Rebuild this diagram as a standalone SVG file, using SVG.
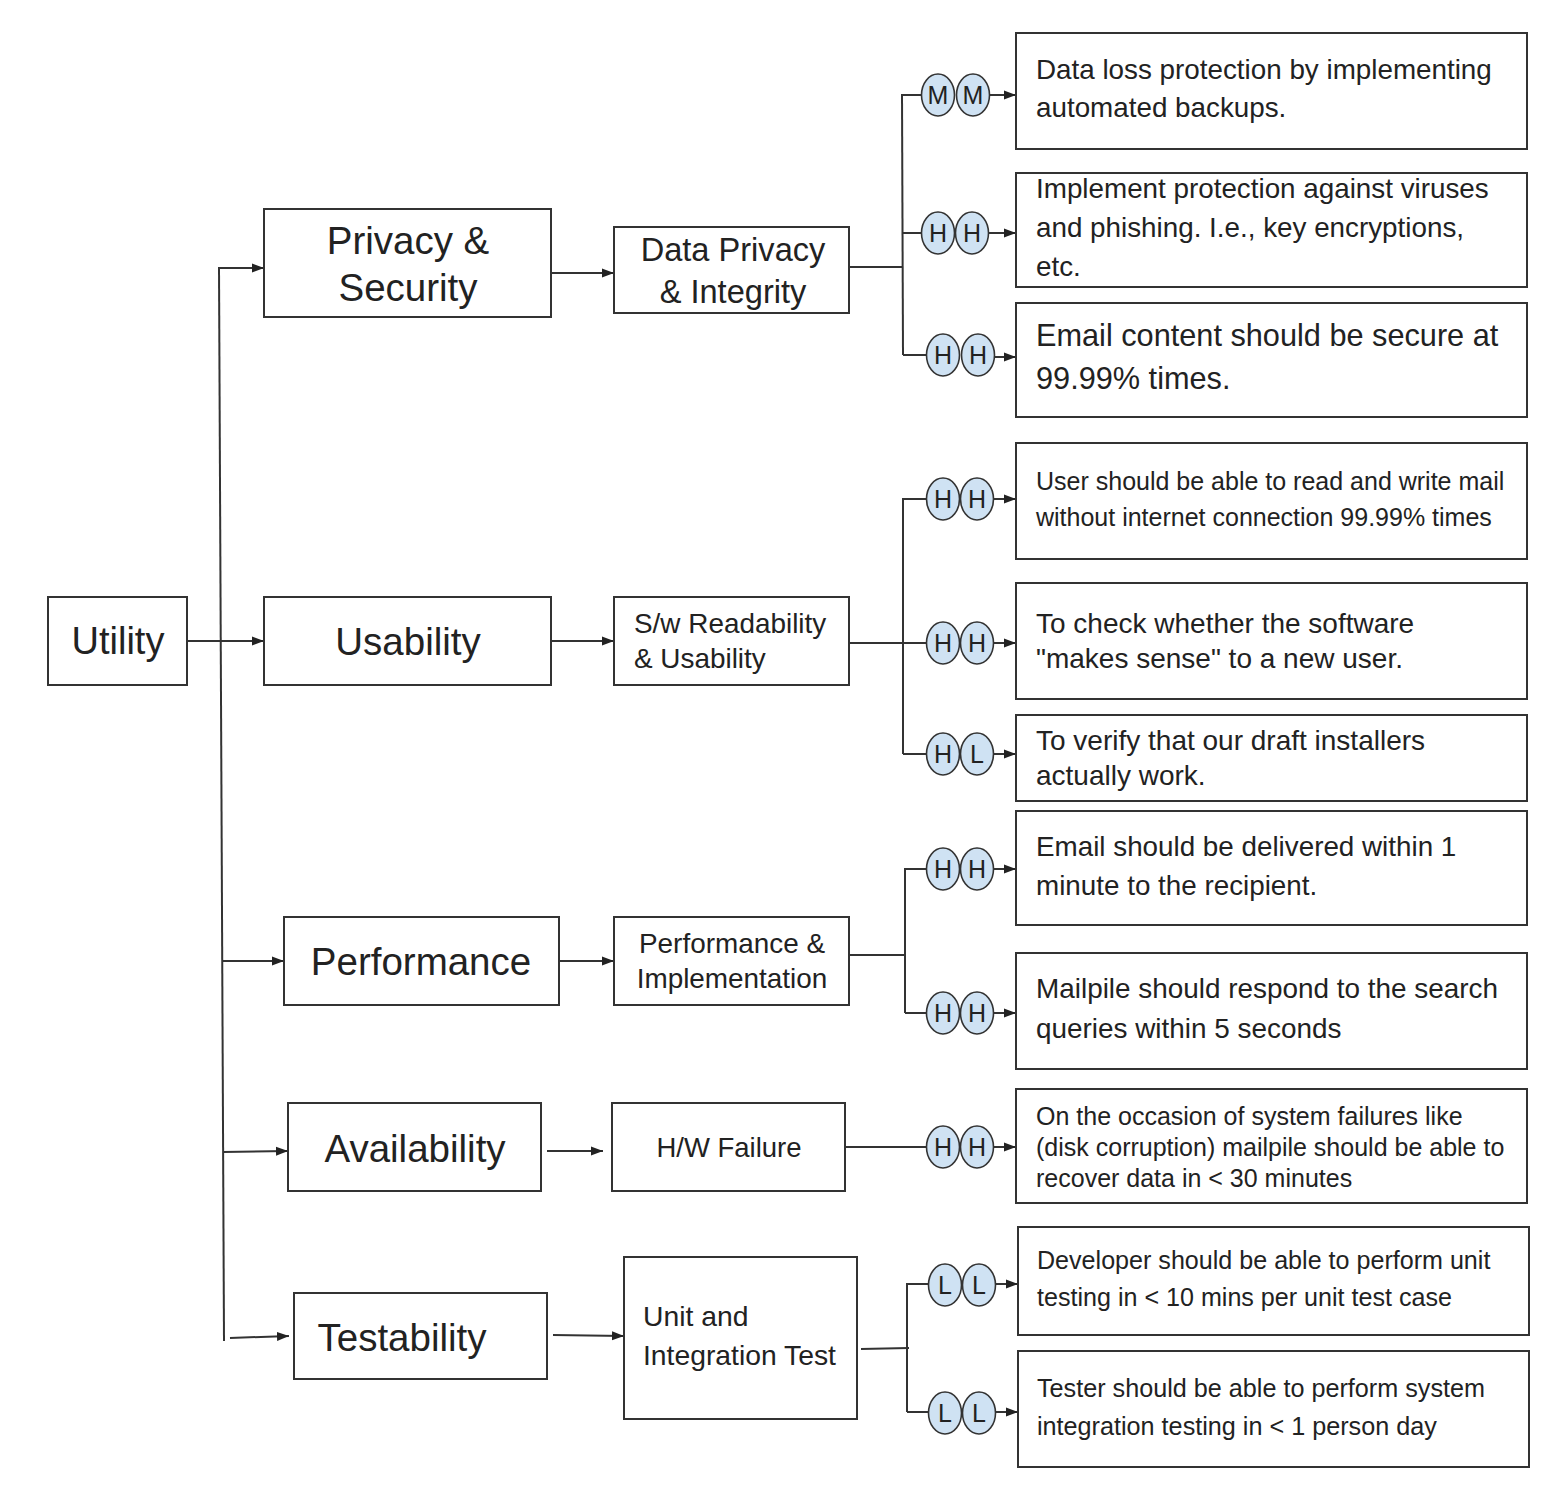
<svg xmlns="http://www.w3.org/2000/svg" width="1550" height="1492" viewBox="0 0 1550 1492">
<defs>
<marker id="ah" viewBox="0 0 12 10" refX="12" refY="5" markerWidth="12" markerHeight="10" markerUnits="userSpaceOnUse" orient="auto"><path d="M0,0.5 L12,5 L0,9.5 z" fill="#222"/></marker>
<style>
.box{fill:#fff;stroke:#333;stroke-width:2}
.t{font-family:"Liberation Sans",Arial,sans-serif;fill:#222}
.c{fill:none;stroke:#333;stroke-width:2}
.a{fill:none;stroke:#333;stroke-width:2;marker-end:url(#ah)}
.el{fill:#cfe2f3;stroke:#333;stroke-width:1.6}
.lt{font-family:"Liberation Sans",Arial,sans-serif;font-size:25px;fill:#222;text-anchor:middle}
</style>
</defs>
<rect width="1550" height="1492" fill="#fff"/>

<g id="connectors">
<line class="a" x1="187" y1="641" x2="264" y2="641"/>
<line class="c" x1="219" y1="268" x2="224" y2="1341"/>
<line class="a" x1="218" y1="268" x2="264" y2="268"/>
<line class="a" x1="222" y1="961" x2="284" y2="961"/>
<line class="a" x1="223" y1="1152" x2="288" y2="1151"/>
<line class="a" x1="230" y1="1338" x2="289" y2="1336"/>
<line class="a" x1="551" y1="273" x2="614" y2="273"/>
<line class="a" x1="551" y1="641" x2="614" y2="641"/>
<line class="a" x1="559" y1="961" x2="614" y2="961"/>
<line class="a" x1="547" y1="1151" x2="603" y2="1151"/>
<line class="a" x1="553" y1="1335" x2="624" y2="1336"/>
<!-- group 1 -->
<line class="c" x1="849" y1="267" x2="903" y2="267"/>
<path class="c" d="M902,95 L903,355"/>
<line class="c" x1="901" y1="95" x2="922" y2="95"/>
<line class="c" x1="902" y1="233" x2="922" y2="233"/>
<line class="c" x1="903" y1="355" x2="927" y2="355"/>
<!-- group 2 -->
<line class="c" x1="849" y1="643" x2="927" y2="643"/>
<line class="c" x1="903" y1="499" x2="903" y2="754"/>
<line class="c" x1="902" y1="499" x2="927" y2="499"/>
<line class="c" x1="903" y1="754" x2="927" y2="754"/>
<!-- group 3 -->
<line class="c" x1="849" y1="955" x2="906" y2="955"/>
<line class="c" x1="905" y1="869" x2="905" y2="1013"/>
<line class="c" x1="904" y1="869" x2="927" y2="869"/>
<line class="c" x1="905" y1="1013" x2="927" y2="1013"/>
<!-- group 4 -->
<line class="c" x1="845" y1="1147" x2="927" y2="1147"/>
<!-- group 5 -->
<line class="c" x1="861" y1="1349" x2="909" y2="1348"/>
<line class="c" x1="907" y1="1284" x2="907" y2="1412"/>
<line class="c" x1="906" y1="1284" x2="929" y2="1284"/>
<line class="c" x1="907" y1="1412" x2="929" y2="1412"/>
<!-- circle to box arrows -->
<line class="a" x1="990" y1="95" x2="1016" y2="95"/>
<line class="a" x1="989" y1="233" x2="1016" y2="233"/>
<line class="a" x1="995" y1="357" x2="1016" y2="357"/>
<line class="a" x1="994" y1="499" x2="1016" y2="499"/>
<line class="a" x1="994" y1="643" x2="1016" y2="643"/>
<line class="a" x1="994" y1="754" x2="1016" y2="754"/>
<line class="a" x1="994" y1="869" x2="1016" y2="869"/>
<line class="a" x1="994" y1="1013" x2="1016" y2="1013"/>
<line class="a" x1="994" y1="1147" x2="1016" y2="1147"/>
<line class="a" x1="996" y1="1284" x2="1018" y2="1284"/>
<line class="a" x1="996" y1="1412" x2="1018" y2="1412"/>
</g>

<g id="n-utility"><rect class="box" x="48" y="597" width="139" height="88"/><text class="t" x="118" y="654" font-size="38" text-anchor="middle">Utility</text></g>
<g id="n-privacy"><rect class="box" x="264" y="209" width="287" height="108"/><text class="t" x="408" y="254" font-size="38.5" text-anchor="middle">Privacy &amp;</text><text class="t" x="408" y="301" font-size="38.5" text-anchor="middle">Security</text></g>
<g id="n-usability"><rect class="box" x="264" y="597" width="287" height="88"/><text class="t" x="408" y="655" font-size="38.5" text-anchor="middle">Usability</text></g>
<g id="n-performance"><rect class="box" x="284" y="917" width="275" height="88"/><text class="t" x="421" y="975" font-size="38.5" text-anchor="middle">Performance</text></g>
<g id="n-availability"><rect class="box" x="288" y="1103" width="253" height="88"/><text class="t" x="415" y="1162" font-size="38.5" text-anchor="middle">Availability</text></g>
<g id="n-testability"><rect class="box" x="294" y="1293" width="253" height="86"/><text class="t" x="402" y="1351" font-size="38.5" text-anchor="middle">Testability</text></g>

<g id="n-dpi"><rect class="box" x="614" y="227" width="235" height="86"/><text class="t" x="733" y="261" font-size="32.6" text-anchor="middle">Data Privacy</text><text class="t" x="733" y="303" font-size="32.6" text-anchor="middle">&amp; Integrity</text></g>
<g id="n-swr"><rect class="box" x="614" y="597" width="235" height="88"/><text class="t" x="634" y="633" font-size="27.9">S/w Readability</text><text class="t" x="634" y="668" font-size="27.9">&amp; Usability</text></g>
<g id="n-pi"><rect class="box" x="614" y="917" width="235" height="88"/><text class="t" x="732" y="953" font-size="27.9" text-anchor="middle">Performance &amp;</text><text class="t" x="732" y="988" font-size="27.9" text-anchor="middle">Implementation</text></g>
<g id="n-hw"><rect class="box" x="612" y="1103" width="233" height="88"/><text class="t" x="729" y="1157" font-size="27.5" text-anchor="middle">H/W Failure</text></g>
<g id="n-uit"><rect class="box" x="624" y="1257" width="233" height="162"/><text class="t" x="643" y="1326" font-size="28.3">Unit and</text><text class="t" x="643" y="1365" font-size="28.3">Integration Test</text></g>

<g id="n-r1"><rect class="box" x="1016" y="33" width="511" height="116"/><text class="t" x="1036" y="79" font-size="27.8">Data loss protection by implementing</text><text class="t" x="1036" y="117" font-size="27.8">automated backups.</text></g>
<g id="n-r2"><rect class="box" x="1016" y="173" width="511" height="114"/><text class="t" x="1036" y="198" font-size="27.8">Implement protection against viruses</text><text class="t" x="1036" y="237" font-size="27.8">and phishing. I.e., key encryptions,</text><text class="t" x="1036" y="276" font-size="27.8">etc.</text></g>
<g id="n-r3"><rect class="box" x="1016" y="303" width="511" height="114"/><text class="t" x="1036" y="346" font-size="30.7">Email content should be secure at</text><text class="t" x="1036" y="389" font-size="30.7">99.99% times.</text></g>
<g id="n-r4"><rect class="box" x="1016" y="443" width="511" height="116"/><text class="t" x="1036" y="490" font-size="25">User should be able to read and write mail</text><text class="t" x="1036" y="526" font-size="25">without internet connection 99.99% times</text></g>
<g id="n-r5"><rect class="box" x="1016" y="583" width="511" height="116"/><text class="t" x="1036" y="633" font-size="28">To check whether the software</text><text class="t" x="1036" y="668" font-size="28">"makes sense" to a new user.</text></g>
<g id="n-r6"><rect class="box" x="1016" y="715" width="511" height="86"/><text class="t" x="1036" y="750" font-size="28">To verify that our draft installers</text><text class="t" x="1036" y="785" font-size="28">actually work.</text></g>
<g id="n-r7"><rect class="box" x="1016" y="811" width="511" height="114"/><text class="t" x="1036" y="856" font-size="27.8">Email should be delivered within 1</text><text class="t" x="1036" y="895" font-size="27.8">minute to the recipient.</text></g>
<g id="n-r8"><rect class="box" x="1016" y="953" width="511" height="116"/><text class="t" x="1036" y="998" font-size="27.9">Mailpile should respond to the search</text><text class="t" x="1036" y="1038" font-size="27.9">queries within 5 seconds</text></g>
<g id="n-r9"><rect class="box" x="1016" y="1089" width="511" height="114"/><text class="t" x="1036" y="1125" font-size="25">On the occasion of system failures like</text><text class="t" x="1036" y="1156" font-size="25">(disk corruption) mailpile should be able to</text><text class="t" x="1036" y="1187" font-size="25">recover data in &lt; 30 minutes</text></g>
<g id="n-r10"><rect class="box" x="1018" y="1227" width="511" height="108"/><text class="t" x="1037" y="1269" font-size="25.1">Developer should be able to perform unit</text><text class="t" x="1037" y="1306" font-size="25.1">testing in &lt; 10 mins per unit test case</text></g>
<g id="n-r11"><rect class="box" x="1018" y="1351" width="511" height="116"/><text class="t" x="1037" y="1397" font-size="25.2">Tester should be able to perform system</text><text class="t" x="1037" y="1435" font-size="25.2">integration testing in &lt; 1 person day</text></g>

<g id="ratings">
<g id="rt1"><ellipse class="el" cx="938" cy="95" rx="16.5" ry="21"/><ellipse class="el" cx="973" cy="95" rx="16.5" ry="21"/><text class="lt" x="938" y="104">M</text><text class="lt" x="973" y="104">M</text></g>
<g id="rt2"><ellipse class="el" cx="938" cy="233" rx="16.5" ry="21"/><ellipse class="el" cx="972" cy="233" rx="16.5" ry="21"/><text class="lt" x="938" y="242">H</text><text class="lt" x="972" y="242">H</text></g>
<g id="rt3"><ellipse class="el" cx="943" cy="355" rx="16.5" ry="21"/><ellipse class="el" cx="978" cy="355" rx="16.5" ry="21"/><text class="lt" x="943" y="364">H</text><text class="lt" x="978" y="364">H</text></g>
<g id="rt4"><ellipse class="el" cx="943" cy="499" rx="16.5" ry="21"/><ellipse class="el" cx="977" cy="499" rx="16.5" ry="21"/><text class="lt" x="943" y="508">H</text><text class="lt" x="977" y="508">H</text></g>
<g id="rt5"><ellipse class="el" cx="943" cy="643" rx="16.5" ry="21"/><ellipse class="el" cx="977" cy="643" rx="16.5" ry="21"/><text class="lt" x="943" y="652">H</text><text class="lt" x="977" y="652">H</text></g>
<g id="rt6"><ellipse class="el" cx="943" cy="754" rx="16.5" ry="21"/><ellipse class="el" cx="977" cy="754" rx="16.5" ry="21"/><text class="lt" x="943" y="763">H</text><text class="lt" x="977" y="763">L</text></g>
<g id="rt7"><ellipse class="el" cx="943" cy="869" rx="16.5" ry="21"/><ellipse class="el" cx="977" cy="869" rx="16.5" ry="21"/><text class="lt" x="943" y="878">H</text><text class="lt" x="977" y="878">H</text></g>
<g id="rt8"><ellipse class="el" cx="943" cy="1013" rx="16.5" ry="21"/><ellipse class="el" cx="977" cy="1013" rx="16.5" ry="21"/><text class="lt" x="943" y="1022">H</text><text class="lt" x="977" y="1022">H</text></g>
<g id="rt9"><ellipse class="el" cx="943" cy="1147" rx="16.5" ry="21"/><ellipse class="el" cx="977" cy="1147" rx="16.5" ry="21"/><text class="lt" x="943" y="1156">H</text><text class="lt" x="977" y="1156">H</text></g>
<g id="rt10"><ellipse class="el" cx="945" cy="1285" rx="16.5" ry="21"/><ellipse class="el" cx="979" cy="1285" rx="16.5" ry="21"/><text class="lt" x="945" y="1294">L</text><text class="lt" x="979" y="1294">L</text></g>
<g id="rt11"><ellipse class="el" cx="945" cy="1413" rx="16.5" ry="21"/><ellipse class="el" cx="979" cy="1413" rx="16.5" ry="21"/><text class="lt" x="945" y="1422">L</text><text class="lt" x="979" y="1422">L</text></g>
</g>
</svg>
